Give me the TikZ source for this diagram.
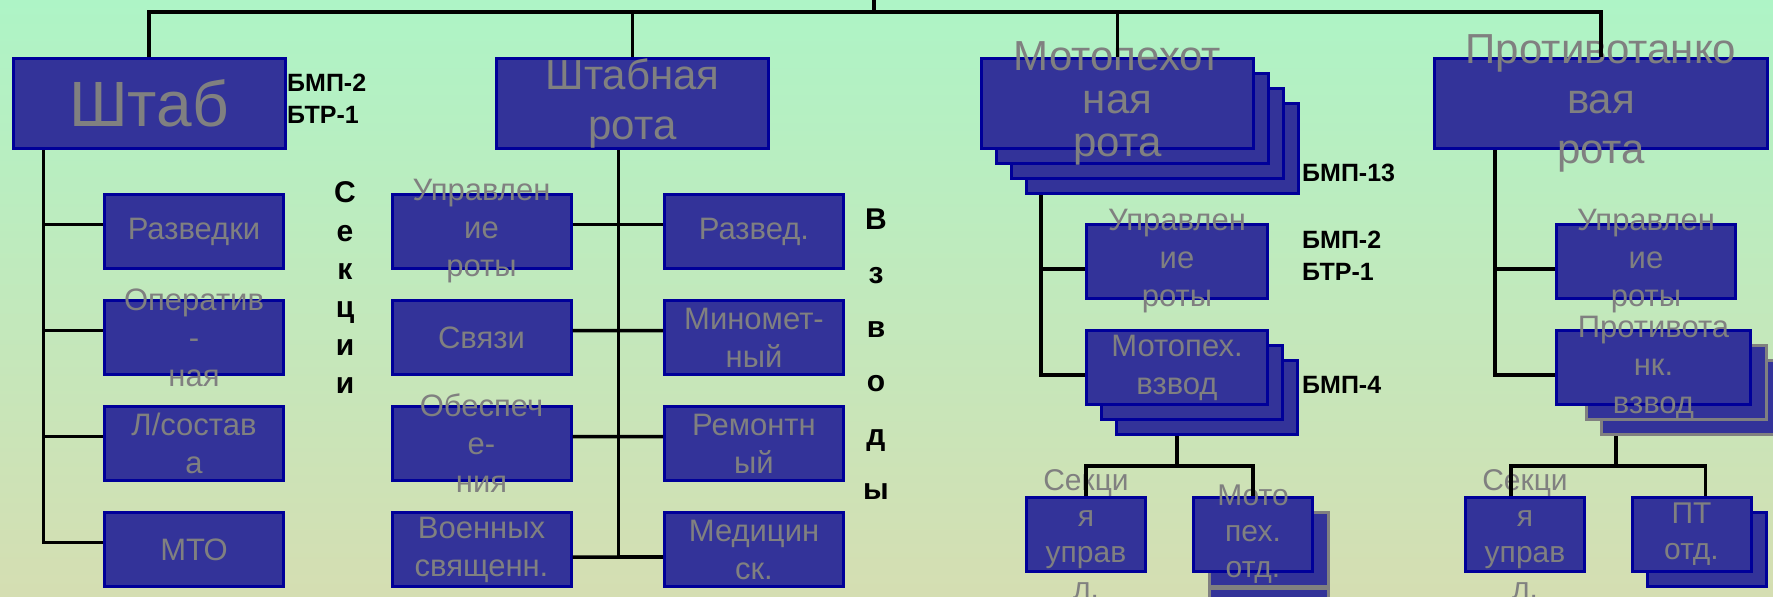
\documentclass[tikz,border=0pt]{standalone}
\usepackage{fontspec}
\setmainfont{Liberation Sans}
\usetikzlibrary{positioning}
\definecolor{unitfill}{HTML}{333399}
\definecolor{unitdraw}{HTML}{000099}
\definecolor{unittext}{HTML}{808080}
\definecolor{bgtop}{HTML}{AEF4C6}
\definecolor{bgbottom}{HTML}{D5DEB2}
\tikzset{
  orgbox/.style={draw=unitdraw, fill=unitfill, line width=3pt, text=unittext, align=center, inner xsep=0pt, inner ysep=-80pt},
  bigbox/.style={orgbox, minimum width=272, minimum height=90, font=\fontsize{42}{50}\selectfont},
  midbox/.style={orgbox, minimum width=179, minimum height=74, font=\fontsize{31}{38}\selectfont},
  lowbox/.style={orgbox, minimum width=119, minimum height=74, font=\fontsize{30}{36}\selectfont},
  greyback/.style={draw=unittext},
  bmptag/.style={anchor=west, align=left, inner sep=0pt, font=\bfseries\fontsize{25}{32}\selectfont},
  vletters/.style={align=center, inner sep=0pt},
  orgline/.style={line width=3.5pt}
}
\begin{document}
\begin{tikzpicture}[x=1pt,y=-1pt]
\useasboundingbox (0,0) rectangle (1773,597);
\clip (0,0) rectangle (1773,597);
\shade[top color=bgtop, bottom color=bgbottom] (0,0) rectangle (1773,597);

\node[bigbox, font=\fontsize{64}{70}\selectfont] (shtab) at (149,103.5) {Штаб};
\node[bigbox] (shr) at (632.5,103.5) {Штабная\\рота};
\foreach \i in {3,2,1}
  \node[bigbox] (mr\i) at (1117.5+15*\i,103.5+15*\i) {};
\node[bigbox, font=\fontsize{42}{43}\selectfont] (mr) at (1117.5,103.5) {Мотопехот\\ная\\рота};
\node[bigbox, minimum width=333] (ptr) at (1601,103.5) {Противотанко\\вая\\рота};

\node[midbox] (razv) at (194,231.5) {Разведки};
\node[midbox, below=29pt of razv] (oper) {Оператив\\-\\ная};
\node[midbox, below=29pt of oper] (lsost) {Л/состав\\а};
\node[midbox, below=29pt of lsost] (mto) {МТО};

\node[midbox] (upr) at (481.5,231.5) {Управлен\\ие\\роты};
\node[midbox, below=29pt of upr] (svy) {Связи};
\node[midbox, below=29pt of svy] (obes) {Обеспеч\\е-\\ния};
\node[midbox, below=29pt of obes] (voen) {Военных\\священн.};

\node[midbox] (razvd) at (754,231.5) {Развед.};
\node[midbox, below=29pt of razvd] (minom) {Миномет-\\ный};
\node[midbox, below=29pt of minom] (rem) {Ремонтн\\ый};
\node[midbox, below=29pt of rem] (med) {Медицин\\ск.};

\node[midbox, minimum width=181] (mupr) at (1177,261.5) {Управлен\\ие\\роты};
\foreach \i in {2,1}
  \node[midbox, minimum width=181] (mvz\i) at (1177+15*\i,367.5+15*\i) {};
\node[midbox, minimum width=181, below=29pt of mupr] (mvz) {Мотопех.\\взвод};

\node[midbox] (pupr) at (1646,261.5) {Управлен\\ие\\роты};
\node[midbox, greyback, minimum width=180] (pvz2) at (1691.5,397.5) {};
\node[midbox, greyback, minimum width=180] (pvz1) at (1676.5,382.5) {};
\node[midbox, minimum width=194] (pvz) at (1653.5,367.5) {Противота\\нк.\\взвод};

\node[lowbox] (msek) at (1086,534.5) {Секци\\я\\управ\\л.};
\node[lowbox, greyback] (motd2) at (1268.5,625.5) {};
\node[lowbox, greyback] (motd1) at (1268.5,549) {};
\node[lowbox] (motd) at (1253,534.5) {Мото\\пех.\\отд.};

\node[lowbox] (psek) at (1525,534.5) {Секци\\я\\управ\\л.};
\node[lowbox] (potd1) at (1707,549) {};
\node[lowbox] (potd) at (1691.5,534.5) {ПТ\\отд.};

\node[bmptag] (shtabtag) at (287,99) {БМП-2\\БТР-1};
\node[bmptag] (mrtag) at (1302,173) {БМП-13};
\node[bmptag] (muprtag) at (1302,256) {БМП-2\\БТР-1};
\node[bmptag] (mvztag) at (1302,385) {БМП-4};
\node[vletters, font=\bfseries\fontsize{30}{38.2}\selectfont] (sekcii) at (345,288) {С\\е\\к\\ц\\и\\и};
\node[vletters, font=\bfseries\fontsize{30}{54}\selectfont] (vzvody) at (876,354) {В\\з\\в\\о\\д\\ы};

\coordinate (root) at (874,0);
\coordinate (bus) at (874,12);
\draw[orgline] (root) -- (bus);
\draw[orgline] (shtab.north) |- (bus) -| (ptr.north);
\draw[orgline] (shr.north) -- (shr.north |- bus);
\draw[orgline] (mr.north) -- (mr.north |- bus);

\coordinate (st) at ([xshift=32pt]shtab.south west);
\foreach \n in {razv,oper,lsost,mto}
  \draw[orgline] ([yshift=7pt]\n.west) -| (st);

\coordinate (sr) at ([xshift=-14pt]shr.south);
\draw[orgline] (sr) |- ([yshift=-7.5pt]med.west);
\foreach \a/\b/\s in {upr/razvd/7,svy/minom/7,obes/rem/7,voen/med/-7.5}
  \draw[orgline] ([yshift=\s pt]\a.east) -- ([yshift=\s pt]\b.west);

\coordinate (mt) at ([xshift=16pt]mr3.south west);
\draw[orgline] (mt) |- ([yshift=-7.5pt]mvz.west);
\draw[orgline] (mt) |- ([yshift=-7.5pt]mupr.west);

\coordinate (pt) at ([xshift=62pt]ptr.south west);
\draw[orgline] (pt) |- ([yshift=-7.5pt]pvz.west);
\draw[orgline] (pt) |- ([yshift=-7.5pt]pupr.west);

\draw[orgline] (mvz.south |- mvz2.south) -- ++(0,30) coordinate (mj);
\draw[orgline] (msek.north) |- (mj) -| (motd.north);
\draw[orgline] ([xshift=16pt]pvz2.south west) -- ++(0,30) coordinate (pj);
\draw[orgline] ([xshift=-14pt]psek.north) |- (pj) -| ([xshift=14pt]potd.north);
\end{tikzpicture}
\end{document}
